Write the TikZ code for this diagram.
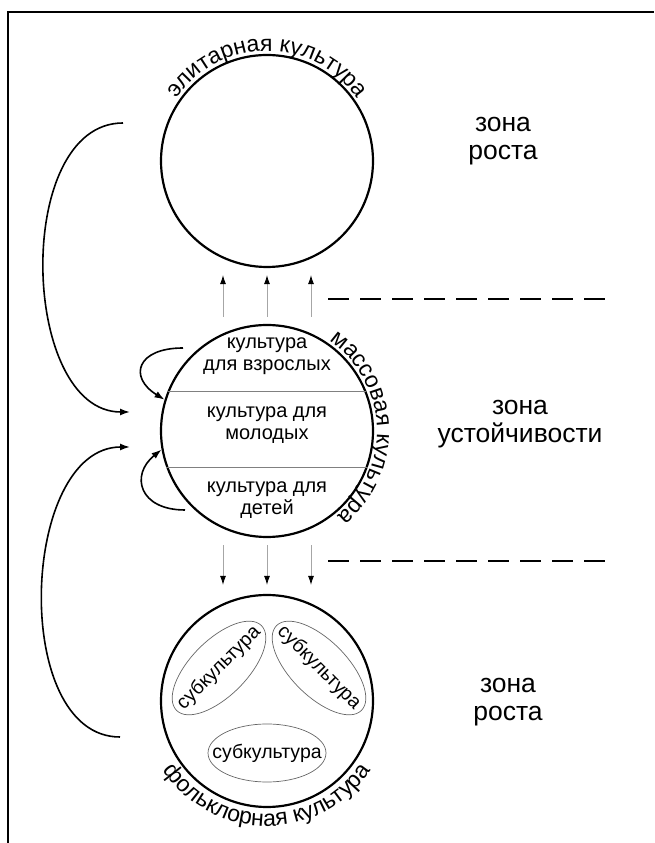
\documentclass[tikz,border=0pt]{standalone}
\usepackage{fontspec}
\setmainfont{Liberation Sans}
\usetikzlibrary{arrows.meta,decorations.text,positioning}

\begin{document}
\begin{tikzpicture}[x=1pt,y=1pt]
\tikzstyle{bigcircle} = [draw,circle,line width=2.2pt,minimum size=212pt,node distance=270pt]
\tikzstyle{chord} = [gray,line width=0.7pt]
\tikzstyle{inner} = [align=center,font=\fontsize{20}{22}\selectfont]
\tikzstyle{subtext} = [inner sep=0pt,font=\fontsize{19.5}{22}\selectfont]
\tikzstyle{subring} = [gray!80!black,line width=0.7pt]
\tikzstyle{zone} = [align=center,font=\fontsize{26.5}{28}\selectfont]
\tikzstyle{flow} = [gray!70,line width=0.9pt,-{Latex[length=9pt,width=6pt,black]}]
\tikzstyle{curvearrow} = [line width=1.6pt,-{Latex[length=10pt,width=7pt]}]
\tikzstyle{zoneline} = [line width=1.8pt,dash pattern=on 21pt off 11pt]
\tikzset{arctext/.style={decorate,decoration={text along path,text align=center,text={|\fontsize{23}{25}\selectfont|#1}}}}

\useasboundingbox (0,0) rectangle (654,843);
\draw[line width=1.6pt] (8,0) -- (8,831) -- (654,831);

\node[bigcircle] (elite) at (267,682) {};
\node[bigcircle,below of=elite] (mass) {};
\node[bigcircle,below of=mass] (folk) {};

% names along the rims
\path[arctext={элитарная культура}] (elite.center) ++(145:110) arc[start angle=145,end angle=35,radius=110];
\path[arctext={массовая культура}] (mass.center) ++(55:110) arc[start angle=55,end angle=-50,radius=110];
\path[arctext={фольклорная культура}] (folk.center) ++(214:125) arc[start angle=214,end angle=326,radius=125];

% mass culture split in three
\draw[chord] (mass.158) -- (mass.22);
\draw[chord] (mass.200) -- (mass.-20);
\node[inner] (adult) at ([yshift=75pt]mass.center) {культура\\для взрослых};
\node[inner] (young) at ([yshift=6pt]mass.center) {культура для\\молодых};
\node[inner] (child) at ([yshift=-69pt]mass.center) {культура для\\детей};

% subcultures
\node[subtext,rotate=45] (sub1) at ([shift={(-48,33)}]folk.center) {субкультура};
\node[subtext,rotate=-45] (sub2) at ([shift={(52,33)}]folk.center) {субкультура};
\node[subtext] (sub3) at ([yshift=-52pt]folk.center) {субкультура};
\draw[subring,rotate around={45:(sub1.center)}] (sub1.center) ellipse[x radius=60,y radius=28];
\draw[subring,rotate around={-45:(sub2.center)}] (sub2.center) ellipse[x radius=60,y radius=28];
\draw[subring] (sub3.center) ellipse[x radius=59,y radius=29];

\foreach \dx in {-44,0,44} {
  \draw[flow,shorten <=7pt,shorten >=7pt] ([xshift=\dx pt]mass.north) -- ([xshift=\dx pt]elite.south);
  \draw[flow,shorten <=7pt,shorten >=9pt] ([xshift=\dx pt]mass.south) -- ([xshift=\dx pt]folk.north);
}

\draw[zoneline] (328,544) -- (615,544);
\draw[zoneline] (328,282) -- (615,282);

\node[zone] (grow1) at (503,702) {зона\\роста};
\node[zone] (steady) at (520,419) {зона\\устойчивости};
\node[zone] (grow2) at (508,141) {зона\\роста};

% curved arrows on the left
\coordinate (topstart) at (123,720);
\coordinate (topend) at (130,431);
\draw[curvearrow] (topstart) .. controls (13,720) and (20,431) .. (topend);
\coordinate (lowstart) at (120,106);
\coordinate (lowend) at (130,396);
\draw[curvearrow] (lowstart) .. controls (10,106) and (20,396) .. (lowend);
\coordinate (loopa) at (183,495);
\draw[curvearrow] (loopa) .. controls (137,495) and (128,466) .. (mass.163);
\coordinate (loopb) at (185,333);
\draw[curvearrow] (loopb) .. controls (139,333) and (130,368) .. (mass.190);
\end{tikzpicture}
\end{document}
